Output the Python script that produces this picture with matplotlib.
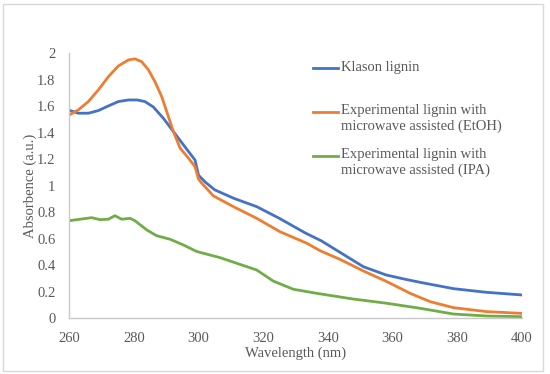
import matplotlib.pyplot as plt
from matplotlib.lines import Line2D
from matplotlib.patches import Rectangle

# Klason lignin
wl_klason = [260, 262.8, 265.9, 269, 272.1, 275.2, 278.3, 281, 283.4, 286, 289.1, 292.2, 295.3,
             298.9, 300, 302, 305, 311, 318, 325, 333, 338, 344, 351, 358, 364, 369, 379, 389, 400]
abs_klason = [1.57, 1.548, 1.548, 1.568, 1.603, 1.636, 1.648, 1.648, 1.636, 1.595, 1.51, 1.41,
              1.31, 1.195, 1.08, 1.03, 0.97, 0.905, 0.843, 0.755, 0.645, 0.585, 0.495, 0.39,
              0.328, 0.295, 0.27, 0.224, 0.197, 0.177]

# Experimental lignin, microwave assisted (EtOH)
wl_etoh = [260, 262.8, 265.9, 269, 272.1, 275.2, 278.3, 280.3, 282.4, 284.5, 286.5, 288.6, 290.7,
           292.2, 294.3, 296.9, 298.9, 300, 301, 304.6, 310.8, 318, 325.2, 333.5, 337.6, 343.8,
           351, 358.3, 365.5, 371.7, 378.9, 389.2, 400]
abs_etoh = [1.535, 1.573, 1.636, 1.724, 1.824, 1.905, 1.95, 1.958, 1.937, 1.875, 1.786, 1.673,
            1.52, 1.41, 1.284, 1.208, 1.145, 1.05, 1.02, 0.924, 0.843, 0.755, 0.654, 0.567, 0.511,
            0.445, 0.358, 0.277, 0.189, 0.126, 0.081, 0.051, 0.038]

# Experimental lignin, microwave assisted (IPA)
wl_ipa = [260, 263.3, 266.9, 269.5, 272.1, 274.1, 276.2, 278.8, 280.3, 284, 287, 291.2, 295.3,
          299.4, 306.7, 311.8, 318, 323.1, 329.3, 336.6, 347.9, 358.3, 368.6, 378.9, 389.2, 400]
abs_ipa = [0.737, 0.748, 0.76, 0.745, 0.748, 0.775, 0.748, 0.755, 0.737, 0.667, 0.624, 0.597,
           0.554, 0.505, 0.458, 0.416, 0.365, 0.282, 0.22, 0.189, 0.146, 0.114, 0.076, 0.033,
           0.018, 0.013]

x_ticks = [260, 280, 300, 320, 340, 360, 380, 400]
y_ticks = [0, 0.2, 0.4, 0.6, 0.8, 1, 1.2, 1.4, 1.6, 1.8, 2]
y_tick_labels = ["0", "0.2", "0.4", "0.6", "0.8", "1", "1.2", "1.4", "1.6", "1.8", "2"]

series = [
    (wl_klason, abs_klason, "#4472C4", "Klason lignin"),
    (wl_etoh, abs_etoh, "#ED7D31", "Experimental lignin with\nmicrowave assisted (EtOH)"),
    (wl_ipa, abs_ipa, "#70AD47", "Experimental lignin with\nmicrowave assisted (IPA)"),
]

text_color = "#595959"
font_size = 10.5
plt.rcParams["font.family"] = ["Liberation Serif", "DejaVu Serif"]
plt.rcParams["font.size"] = font_size

W, H = 550, 374
fig = plt.figure(figsize=(W / 100, H / 100), dpi=100)
ax = fig.add_axes([69.3 / W, 1 - 318.4 / H, (521.7 - 69.3) / W, (318.4 - 53.3) / H])

for wl, vals, color, _ in series:
    ax.plot(wl, vals, color=color, linewidth=2, solid_joinstyle="round")

ax.set_xlim(260, 400)
ax.set_ylim(0, 2)
ax.set_xticks(x_ticks)
ax.set_yticks(y_ticks)
ax.set_yticklabels(y_tick_labels)
ax.tick_params(length=0, colors=text_color, labelsize=font_size)
ax.tick_params(axis="x", pad=10)
ax.tick_params(axis="y", pad=10)
for side in ("top", "right"):
    ax.spines[side].set_visible(False)
for side in ("left", "bottom"):
    ax.spines[side].set_color("#c8c8c8")
    ax.spines[side].set_linewidth(1)

ax.set_xlabel("Wavelength (nm)", color=text_color, fontsize=font_size, labelpad=1)
ax.set_ylabel("Absorbence (a.u.)", color=text_color, fontsize=font_size, labelpad=0)

# legend drawn Excel-style: swatch aligned with the first text line
legend_y = [68.3, 111.7, 155.7]
for (_, _, color, label), y in zip(series, legend_y):
    fig.add_artist(Line2D([313 / W, 338 / W], [1 - y / H, 1 - y / H],
                          color=color, linewidth=2, transform=fig.transFigure))
    fig.text(341 / W, 1 - (y - 7.5) / H, label, color=text_color, fontsize=font_size,
             va="top", ha="left", linespacing=1.25)

fig.add_artist(Rectangle((3.3 / W, 1 - 370.7 / H), (543.3 - 3.3) / W, (370.7 - 4) / H,
                         transform=fig.transFigure, fill=False,
                         edgecolor="#d9d9d9", linewidth=1))

fig.savefig("out.png", dpi=100)
